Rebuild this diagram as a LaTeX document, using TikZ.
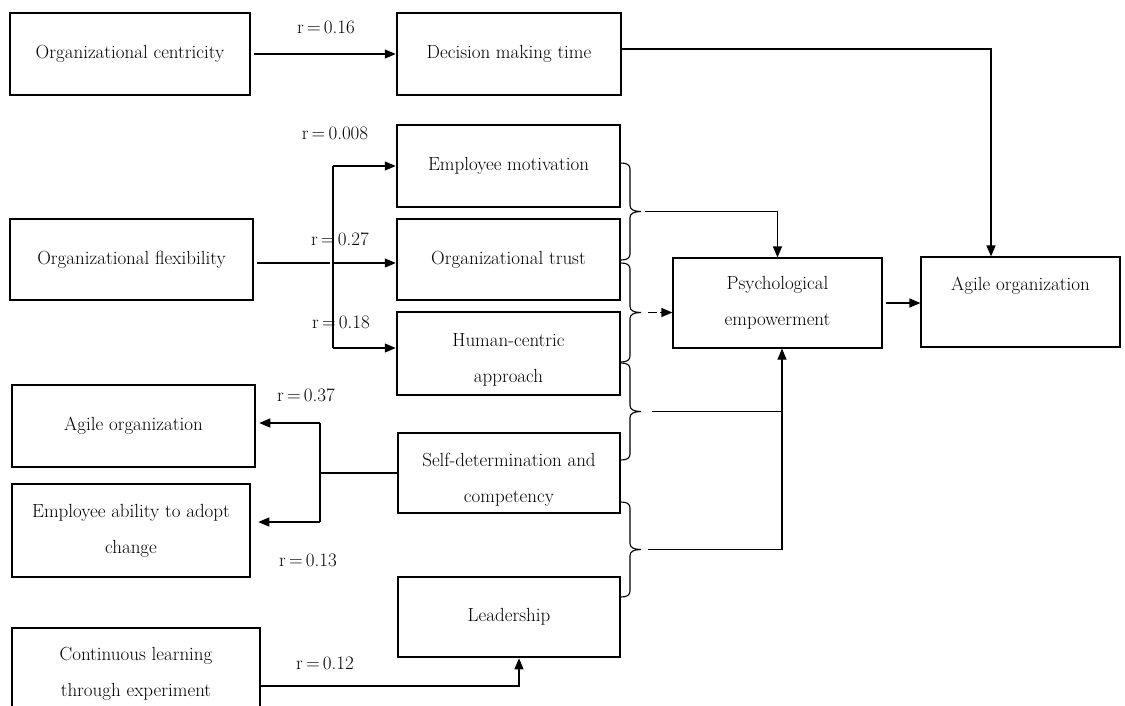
\documentclass[tikz,border=0pt]{standalone}
\usetikzlibrary{arrows.meta,calc}
\newcommand\mybrace[3]{%
  \draw[brcl] (621,#1) .. controls (627,#1) and (630,#1+2) .. (630,#1+6)
    -- (630,#2-6) .. controls (630,#2-2) and (634,#2) .. (641,#2)
    .. controls (634,#2) and (630,#2+2) .. (630,#2+6)
    -- (630,#3-6) .. controls (630,#3-2) and (627,#3) .. (621,#3);}
\begin{document}
\begin{tikzpicture}[x=1pt,y=-1pt,
  thickbox/.style={draw,line width=2.5pt,inner sep=0pt,align=center,font=\fontsize{19}{36}\selectfont},
  thinbox/.style={draw,line width=1.2pt,inner sep=0pt,align=center,font=\fontsize{19}{36}\selectfont},
  txt/.style={align=center,inner sep=0pt,font=\fontsize{19}{36}\selectfont},
  rlab/.style={inner sep=0pt,font=\fontsize{19}{22}\selectfont},
  conn/.style={line width=1.2pt},
  arr/.style={conn,-{Triangle[length=11pt,width=9pt]}},
  brcl/.style={line width=1.1pt},
]
\useasboundingbox (0,0) rectangle (1125,705);
\clip (0,0) rectangle (1125,705);

% boxes
\node[thickbox,minimum width=240,minimum height=82] (oc) at (130,54) {Organizational centricity};
\node[thickbox,minimum width=224,minimum height=82] (dmt) at (509,54) {Decision making time};
\node[thickbox,minimum width=223,minimum height=82] (em) at (508.5,166) {Employee motivation};
\node[thickbox,minimum width=223,minimum height=81] (ot) at (508.5,259.5) {Organizational trust};
\node[thickbox,minimum width=223,minimum height=83] (hc) at (508.5,353.5) {};
\node[thickbox,minimum width=222,minimum height=80] (sd) at (509,473) {};
\node[thickbox,minimum width=222,minimum height=80] (ld) at (509,617) {Leadership};
\node[thinbox,minimum width=209,minimum height=90] (pe) at (777.5,303) {Psychological\\empowerment};
\node[thinbox,minimum width=199,minimum height=90] (agR) at (1020.5,302) {};
\node[thickbox,minimum width=243,minimum height=81] (of) at (131.5,259.5) {Organizational flexibility};
\node[thickbox,minimum width=243,minimum height=82] (agL) at (133.5,426) {Agile organization};
\node[thickbox,minimum width=238,minimum height=93] (eac) at (131,530.5) {Employee ability to adopt\\change};
\node[thickbox,minimum width=248,minimum height=92] (cl) at (136,674) {Continuous learning\\through experiment};

% offset texts
\node[txt] (agRt) at ([yshift=-29pt]agR.north) {Agile organization};
\node[txt] (hct) at ([yshift=-6.5pt]hc.center) {Human-centric\\approach};
\node[txt] (sdt) at ([yshift=-7pt]sd.center) {Self-determination and\\competency};

% r labels
\node[rlab] (r1) at (326,27) {r\,=\,0.16};
\node[rlab] (r2) at (335,133) {r\,=\,0.008};
\node[rlab] (r3) at (340,239) {r\,=\,0.27};
\node[rlab] (r4) at (341,322) {r\,=\,0.18};
\node[rlab] (r5) at (306,395) {r\,=\,0.37};
\node[rlab] (r6) at (308,560) {r\,=\,0.13};
\node[rlab] (r7) at (325,663) {r\,=\,0.12};

% top row
\draw[arr] ([xshift=3pt]oc.east) -- (dmt.west);
\draw[arr] ([yshift=5pt]dmt.east) -| ([xshift=-29.5pt]agR.north);

% organizational flexibility fork
\coordinate (fk) at (333,263);
\coordinate (hcin) at ([yshift=5.5pt]hc.west);
\draw[conn] ([xshift=3pt]of.east |- fk) -- ([xshift=-3pt]fk);
\draw[conn] (fk |- em.west) -- (fk |- hcin);
\draw[arr] (fk |- em.west) -- (em.west);
\draw[arr] (fk) -- (ot.west |- fk);
\draw[arr] (fk |- hcin) -- (hcin);

% self-determination fork
\coordinate (sk) at (320,474);
\coordinate (a1) at ([xshift=3pt,yshift=3pt]agL.east);
\coordinate (a2) at ([xshift=7pt,yshift=8.5pt]eac.east);
\draw[conn] (sd.west) -- (sd.west -| sk);
\draw[conn] (sk |- a1) -- (sk |- a2);
\draw[arr] (sk |- a1) -- (a1);
\draw[arr] (sk |- a2) -- (a2);

% continuous learning
\coordinate (ldin) at ([xshift=10pt]ld.south);
\draw[arr] ([yshift=-12pt]cl.east) -| (ldin);

% braces
\mybrace{163}{211.5}{260}
\mybrace{263}{312.5}{362}
\mybrace{363}{411.5}{460}
\mybrace{502}{549.5}{597}
\coordinate (t1) at (641,211.5);
\coordinate (t2) at (641,312.5);
\coordinate (t3) at (641,411.5);
\coordinate (t4) at (641,549.5);
\coordinate (j4) at (782,549.5);

\draw[arr] ([xshift=4pt]t1) -| (pe.north);
\draw[conn] ([xshift=7pt]t2) -- ++(9,0);
\draw[arr] ([xshift=19pt]t2) -- (pe.west |- t2);
\draw[conn] ([xshift=11pt]t3) -- (t3 -| j4);
\draw[conn] ([xshift=7pt]t4) -- (j4);
\draw[arr] (j4) -- (j4 |- pe.south);

% to agile organization
\draw[arr] ([xshift=3pt]pe.east) -- (agR.west |- pe.east);
\end{tikzpicture}
\end{document}
